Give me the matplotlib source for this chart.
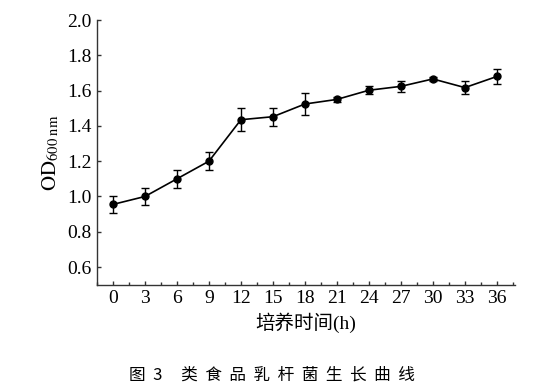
import matplotlib
matplotlib.use("Agg")
import matplotlib.pyplot as plt
from matplotlib.ticker import MultipleLocator

plt.rcParams['font.family'] = ['Liberation Serif', 'Noto Sans CJK SC']
plt.rcParams['mathtext.fontset'] = 'stix'

# 培养时间 (h) 与 OD600 读数
hours = [0, 3, 6, 9, 12, 15, 18, 21, 24, 27, 30, 33, 36]
od600 = [0.955, 1.00, 1.10, 1.20, 1.435, 1.452, 1.524, 1.550, 1.602, 1.624, 1.666, 1.617, 1.680]
od_err = [0.05, 0.05, 0.05, 0.05, 0.065, 0.05, 0.065, 0.015, 0.023, 0.03, 0.01, 0.035, 0.045]

x_ticks = list(range(0, 37, 3))
y_ticks = [0.6, 0.8, 1.0, 1.2, 1.4, 1.6, 1.8, 2.0]

fig = plt.figure(figsize=(5.59, 3.90), dpi=100)
ax = fig.add_axes([0.1735, 0.270, 0.7478, 0.6787])

ax.errorbar(hours, od600, yerr=od_err, fmt='-o', color='black', linewidth=1.2,
            markersize=5, elinewidth=1.0, capsize=3, capthick=1.0)

ax.set_xlim(-1.5, 37.7)
ax.set_ylim(0.5, 2.0)
ax.set_xticks(x_ticks)
ax.set_yticks(y_ticks)
ax.set_yticklabels([f"{v:.1f}" for v in y_ticks])
ax.xaxis.set_minor_locator(MultipleLocator(1.5))

for side in ('top', 'right'):
    ax.spines[side].set_visible(False)
for side in ('left', 'bottom'):
    ax.spines[side].set_linewidth(1.0)
    ax.spines[side].set_color('#333333')

ax.tick_params(axis='both', which='major', direction='in', length=3, width=1.0,
               labelsize=14, pad=4, color='#333333')
ax.tick_params(axis='x', which='minor', direction='in', length=2, width=1.0, color='#333333')

ax.set_xlabel('培养时间(h)', fontsize=14, labelpad=4)
ax.set_ylabel(r'$\mathrm{OD}_{\mathrm{600\ nm}}$', fontsize=15, labelpad=4)

caption = '图  3     ' + '  '.join('类食品乳杆菌生长曲线')
fig.text(0.487, 1 - 375 / 390, caption,
         ha='center', va='center', fontsize=12,
         family=['Noto Sans CJK SC', 'DejaVu Sans'])

fig.savefig('out.png', dpi=100)
